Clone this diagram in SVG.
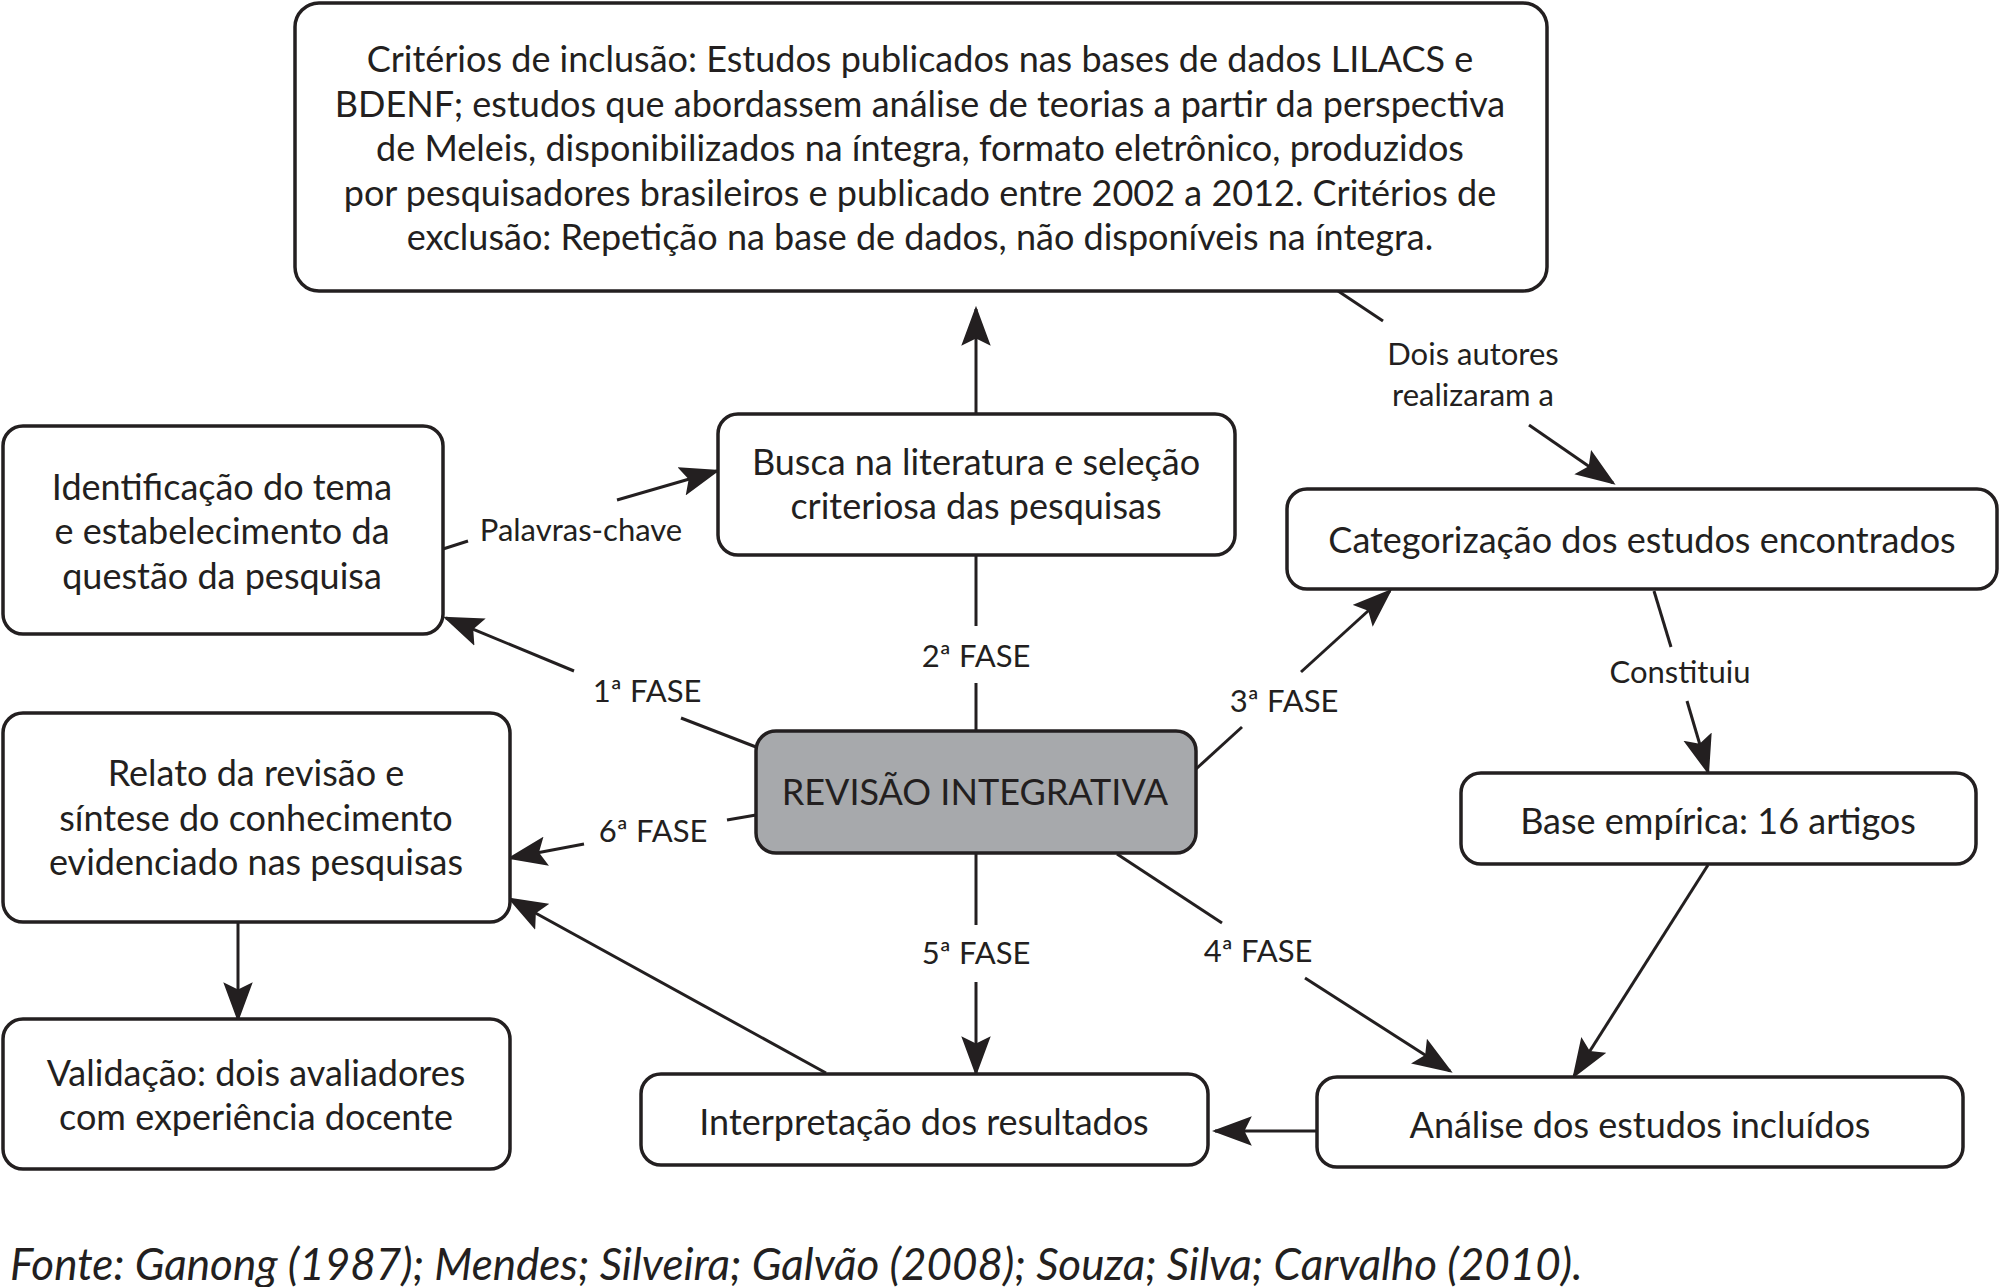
<svg xmlns="http://www.w3.org/2000/svg" width="2000" height="1287" viewBox="0 0 2000 1287">
<style>
.box{fill:#fff;stroke:#231f20;stroke-width:3.5}
.core{fill:#a7a9ac;stroke:#231f20;stroke-width:3.5}
.t{font-family:Lato,"Liberation Sans",sans-serif;font-size:36px;fill:#231f20;text-anchor:middle}
.l{font-family:Lato,"Liberation Sans",sans-serif;font-size:31px;fill:#231f20;text-anchor:middle}
.f{font-family:Lato,"Liberation Sans",sans-serif;font-size:44px;font-style:italic;fill:#231f20}
.c{fill:none;stroke:#231f20;stroke-width:3}
.a{marker-end:url(#ah)}
</style>
<defs>
<marker id="ah" markerUnits="userSpaceOnUse" markerWidth="40" markerHeight="30" viewBox="0 0 38 28" refX="35" refY="14" orient="auto">
<path d="M0,0 L38,14 L0,28 L7,14 Z" fill="#231f20"/>
</marker>
</defs>
<g id="connectors">
<path class="c a" d="M976,413 L976,309"/>
<path class="c" d="M443,549 L468,541"/>
<path class="c a" d="M617,500 L717,471"/>
<path class="c" d="M756,747 L681,718"/>
<path class="c a" d="M574,671 L446,618"/>
<path class="c" d="M976,555 L976,626"/>
<path class="c" d="M976,683 L976,731"/>
<path class="c" d="M1196,769 L1242,727"/>
<path class="c a" d="M1301,672 L1390,591"/>
<path class="c" d="M1338,291 L1383,321"/>
<path class="c a" d="M1529,425 L1613,483"/>
<path class="c" d="M1654,591 L1671,647"/>
<path class="c a" d="M1687,701 L1708,772"/>
<path class="c a" d="M1708,865 L1574,1076"/>
<path class="c" d="M1117,854 L1222,923"/>
<path class="c a" d="M1305,978 L1450,1071"/>
<path class="c a" d="M1317,1131 L1215,1131"/>
<path class="c" d="M976,853 L976,925"/>
<path class="c a" d="M976,982 L976,1073"/>
<path class="c a" d="M826,1073 L510,899"/>
<path class="c" d="M756,815 L727,820"/>
<path class="c a" d="M584,844 L510,858"/>
<path class="c a" d="M238,922 L238,1019"/>
<text class="l" x="581" y="541">Palavras-chave</text>
<text class="l" x="647" y="702">1ª FASE</text>
<text class="l" x="976" y="667">2ª FASE</text>
<text class="l" x="1284" y="712">3ª FASE</text>
<text class="l" x="1473" y="365">Dois autores</text>
<text class="l" x="1473" y="406">realizaram a</text>
<text class="l" x="1680" y="683">Constituiu</text>
<text class="l" x="1258" y="962">4ª FASE</text>
<text class="l" x="976" y="964">5ª FASE</text>
<text class="l" x="653" y="842">6ª FASE</text>
</g>
<g id="criterios">
<rect class="box" x="295" y="3" width="1252" height="288" rx="24"/>
<text class="t" x="920" y="72">Critérios de inclusão: Estudos publicados nas bases de dados LILACS e</text>
<text class="t" x="920" y="116.5">BDENF; estudos que abordassem análise de teorias a partir da perspectiva</text>
<text class="t" x="920" y="161">de Meleis, disponibilizados na íntegra, formato eletrônico, produzidos</text>
<text class="t" x="920" y="205.5">por pesquisadores brasileiros e publicado entre 2002 a 2012. Critérios de</text>
<text class="t" x="920" y="250">exclusão: Repetição na base de dados, não disponíveis na íntegra.</text>
</g>
<g id="busca">
<rect class="box" x="718" y="414" width="517" height="141" rx="20"/>
<text class="t" x="976" y="475">Busca na literatura e seleção</text>
<text class="t" x="976" y="519">criteriosa das pesquisas</text>
</g>
<g id="identificacao">
<rect class="box" x="3" y="426" width="440" height="208" rx="20"/>
<text class="t" x="222" y="500">Identificação do tema</text>
<text class="t" x="222" y="544">e estabelecimento da</text>
<text class="t" x="222" y="589">questão da pesquisa</text>
</g>
<g id="categorizacao">
<rect class="box" x="1287" y="489" width="710" height="100" rx="20"/>
<text class="t" x="1642" y="553">Categorização dos estudos encontrados</text>
</g>
<g id="revisao">
<rect class="core" x="756" y="731" width="440" height="122" rx="20"/>
<text class="t" x="975" y="805">REVISÃO INTEGRATIVA</text>
</g>
<g id="base">
<rect class="box" x="1461" y="773" width="515" height="91" rx="20"/>
<text class="t" x="1718" y="834">Base empírica: 16 artigos</text>
</g>
<g id="relato">
<rect class="box" x="3" y="713" width="507" height="209" rx="20"/>
<text class="t" x="256" y="786">Relato da revisão e</text>
<text class="t" x="256" y="831">síntese do conhecimento</text>
<text class="t" x="256" y="875">evidenciado nas pesquisas</text>
</g>
<g id="validacao">
<rect class="box" x="3" y="1019" width="507" height="150" rx="20"/>
<text class="t" x="256" y="1086">Validação: dois avaliadores</text>
<text class="t" x="256" y="1130">com experiência docente</text>
</g>
<g id="interpretacao">
<rect class="box" x="641" y="1074" width="567" height="91" rx="20"/>
<text class="t" x="924" y="1135">Interpretação dos resultados</text>
</g>
<g id="analise">
<rect class="box" x="1317" y="1077" width="646" height="90" rx="20"/>
<text class="t" x="1640" y="1138">Análise dos estudos incluídos</text>
</g>
<text class="f" x="10" y="1280">Fonte: Ganong (1987); Mendes; Silveira; Galvão (2008); Souza; Silva; Carvalho (2010).</text>
</svg>
